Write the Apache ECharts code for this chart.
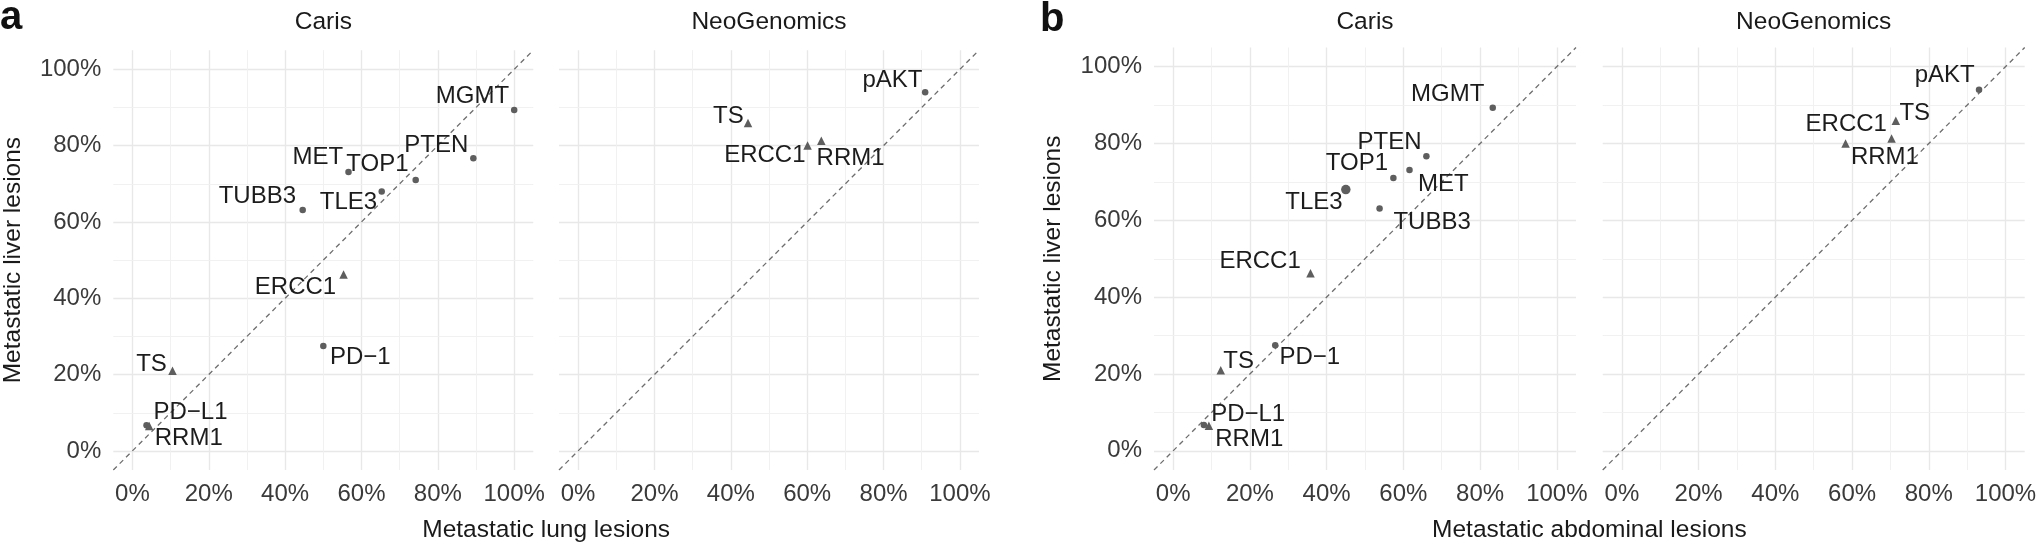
<!DOCTYPE html>
<html>
<head>
<meta charset="utf-8">
<script src="https://cdn.jsdelivr.net/npm/echarts@6/dist/echarts.min.js"></script>
<style>
html,body{margin:0;padding:0;background:#ffffff;}
#chart{width:2037px;height:545px;}
</style>
</head>
<body>
<div id="chart"></div>
<script>
// ---------------- data ----------------
const carisGenes      = ['MGMT','PTEN','TOP1','TLE3','MET','TUBB3','ERCC1','PD\u22121','TS','PD\u2212L1','RRM1'];
const carisLiver      = [89.3, 76.7, 71.0, 68.0, 73.1, 63.1, 46.2, 27.5, 21.0, 6.7, 6.5];
const carisLung       = [100.0, 89.3, 74.2, 65.3, 56.6, 44.6, 55.3, 50.0, 10.5, 3.7, 4.4];
const carisAbdominal  = [83.3, 66.0, 57.4, 45.0, 61.6, 53.8, 35.8, 26.6, 12.4, 8.0, 9.3];

const neoGenes        = ['pAKT','TS','ERCC1','RRM1'];
const neoLiver        = [94.0, 85.9, 80.0, 81.3];
const neoLung         = [90.9, 44.5, 60.1, 63.7];
const neoAbdominal    = [93.1, 71.4, 58.3, 70.3];

const triangleGenes   = ['ERCC1','TS','RRM1'];   // marker type mapping
const majorTicks      = [0, 20, 40, 60, 80, 100];
const minorTicks      = [10, 30, 50, 70, 90];
const axisRange       = [-5, 105];

const stripTitles     = ['Caris','NeoGenomics','Caris','NeoGenomics'];
const xTitles         = ['Metastatic lung lesions','Metastatic abdominal lesions'];
const yTitle          = 'Metastatic liver lesions';
const panelLetters    = ['a','b'];

// ---------------- styling / layout ----------------
const FONT = '"Liberation Sans", Arial, Helvetica, sans-serif';
const POINT = '#5e5e5e';

const grids = [
  {left:113.3, top:50.2, width:420, height:419.8},
  {left:559,   top:50.2, width:420, height:419.8},
  {left:1154,  top:47.5, width:422, height:422.5},
  {left:1602.7,top:47.5, width:422, height:422.5}
];

// label centre offsets (px) relative to point, ggrepel-like placement
const labelOffsets = [
  {'MGMT':[-41.7,-13.7],'PTEN':[-37,-13],'TOP1':[-38.3,-15.3],'TLE3':[-33.3,11.3],'MET':[-30.7,-15],
   'TUBB3':[-45.3,-13.7],'ERCC1':[-48,12.3],'PD\u22121':[37,11],'TS':[-21,-6],'PD\u2212L1':[44,-12.7],'RRM1':[39.6,12]},
  {'pAKT':[-32.7,-11.5],'TS':[-19.7,-7],'ERCC1':[-42.7,9.7],'RRM1':[29.3,17.4]},
  {'MGMT':[-45,-13.2],'PTEN':[-36.8,-14.3],'TOP1':[-36.4,-14.9],'MET':[33.9,14.3],'TLE3':[-31.8,12.5],
   'TUBB3':[52.5,13.9],'ERCC1':[-50.4,-11.8],'PD\u22121':[34.6,12.5],'TS':[17.9,-8.3],'PD\u2212L1':[44.3,-11.1],'RRM1':[40.4,13.6]},
  {'pAKT':[-34.3,-14],'TS':[19,-7.3],'ERCC1':[0.7,-18.7],'RRM1':[-6.7,18.7]}
];
const bigPoints = [{}, {}, {'TLE3':true}, {}];

const panels = [
  {genes:carisGenes, x:carisLung,       y:carisLiver},
  {genes:neoGenes,   x:neoLung,         y:neoLiver},
  {genes:carisGenes, x:carisAbdominal,  y:carisLiver},
  {genes:neoGenes,   x:neoAbdominal,    y:neoLiver}
];

// ---------------- build option ----------------
const xAxes = [], yAxes = [], series = [], gridOpts = [];
const tickFmt = v => (v >= 0 && v % 20 === 0) ? v + '%' : '';

const gridLineData = [];
majorTicks.forEach(v => {
  gridLineData.push({xAxis: v, lineStyle:{color:'#e8e8e8', width:1.4, type:'solid'}});
  gridLineData.push({yAxis: v, lineStyle:{color:'#e8e8e8', width:1.4, type:'solid'}});
});
minorTicks.forEach(v => {
  gridLineData.push({xAxis: v, lineStyle:{color:'#efefef', width:0.9, type:'solid'}});
  gridLineData.push({yAxis: v, lineStyle:{color:'#efefef', width:0.9, type:'solid'}});
});

panels.forEach((p, i) => {
  gridOpts.push(Object.assign({outerBoundsMode:'none', containLabel:false}, grids[i]));
  xAxes.push({
    type:'value', gridIndex:i, min:axisRange[0], max:axisRange[1], interval:5,
    axisLine:{show:false}, axisTick:{show:false}, splitLine:{show:false},
    axisLabel:{show:true, formatter:tickFmt, margin:12, color:'#3a3a3a', fontSize:24, fontFamily:FONT}
  });
  yAxes.push({
    type:'value', gridIndex:i, min:axisRange[0], max:axisRange[1], interval:5,
    axisLine:{show:false}, axisTick:{show:false}, splitLine:{show:false},
    axisLabel:{show:(i === 0 || i === 2), formatter:tickFmt, margin:12, color:'#3a3a3a', fontSize:24, fontFamily:FONT}
  });
  // grid lines
  series.push({
    type:'scatter', xAxisIndex:i, yAxisIndex:i, data:[], z:0, silent:true,
    markLine:{silent:true, z:0, symbol:['none','none'], label:{show:false}, animation:false,
              emphasis:{disabled:true}, data:gridLineData}
  });
  // identity line
  series.push({
    type:'line', xAxisIndex:i, yAxisIndex:i, z:2, silent:true, symbol:'none',
    data:[[axisRange[0], axisRange[0]], [axisRange[1], axisRange[1]]],
    lineStyle:{color:'#6e6e6e', width:1.3, type:[5,4]}
  });
  // points
  const pts = p.genes.map((g, k) => {
    const tri = triangleGenes.indexOf(g) >= 0;
    const big = bigPoints[i][g];
    const size = tri ? 8.5 : (big ? 9.5 : 6.5);
    const off = labelOffsets[i][g] || [0, 0];
    return {
      name:g, value:[p.x[k], p.y[k]],
      symbol: tri ? 'triangle' : 'circle',
      symbolSize: size,
      label:{show:true, position:[size/2 + off[0], size/2 + off[1]], align:'center', verticalAlign:'middle'}
    };
  });
  series.push({
    type:'scatter', xAxisIndex:i, yAxisIndex:i, z:6, clip:false,
    itemStyle:{color:POINT, opacity:1},
    label:{show:true, formatter:'{b}', color:'#1c1c1c', fontSize:24, fontFamily:FONT,
           align:'center', verticalAlign:'middle'},
    data:pts
  });
});

// texts: strip titles, axis titles, panel letters
const graphic = [];
grids.forEach((g, i) => {
  graphic.push({type:'text', x:g.left + g.width/2, y:22.5, silent:true,
    style:{text:stripTitles[i], fill:'#1a1a1a', font:'24.5px ' + FONT, textAlign:'center', textVerticalAlign:'middle', align:'center', verticalAlign:'middle'}});
});
[[grids[0], grids[1]], [grids[2], grids[3]]].forEach((pair, j) => {
  const cx = (pair[0].left + pair[1].left + pair[1].width) / 2;
  graphic.push({type:'text', x:cx, y:530, silent:true,
    style:{text:xTitles[j], fill:'#1a1a1a', font:'24.5px ' + FONT, textAlign:'center', textVerticalAlign:'middle', align:'center', verticalAlign:'middle'}});
  const cy = pair[0].top + pair[0].height / 2;
  graphic.push({type:'text', x:pair[0].left - 100.5, y:cy, rotation:Math.PI/2, silent:true,
    style:{text:yTitle, fill:'#1a1a1a', font:'24.5px ' + FONT, textAlign:'center', textVerticalAlign:'middle', align:'center', verticalAlign:'middle'}});
});
graphic.push({type:'text', x:0, y:18, silent:true,
  style:{text:panelLetters[0], fill:'#111', font:'bold 40px ' + FONT, textAlign:'left', textVerticalAlign:'middle', align:'left', verticalAlign:'middle'}});
graphic.push({type:'text', x:1040, y:19.5, silent:true,
  style:{text:panelLetters[1], fill:'#111', font:'bold 40px ' + FONT, textAlign:'left', textVerticalAlign:'middle', align:'left', verticalAlign:'middle'}});

const chart = echarts.init(document.getElementById('chart'), null, {renderer:'canvas'});
chart.setOption({
  backgroundColor:'#ffffff',
  animation:false,
  grid:gridOpts,
  xAxis:xAxes,
  yAxis:yAxes,
  series:series,
  graphic:graphic
});
</script>
</body>
</html>
